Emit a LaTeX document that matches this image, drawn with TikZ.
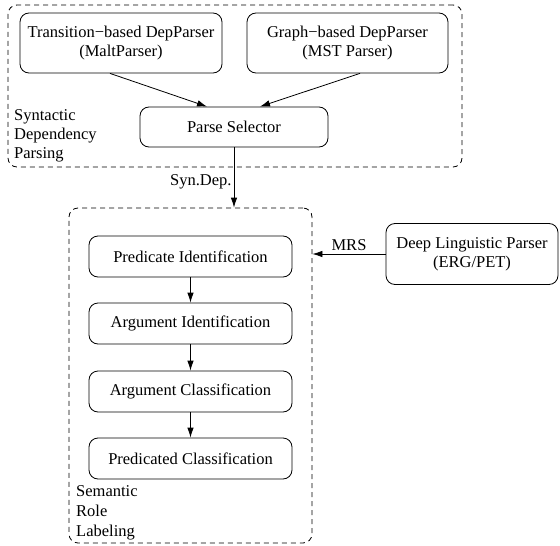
\documentclass[tikz,border=0pt]{standalone}
\usepackage{fontspec}
\setmainfont{Liberation Serif}
\usetikzlibrary{arrows.meta}
\begin{document}
\begin{tikzpicture}[x=1pt,y=-1pt,
  every node/.style={font=\fontsize{16.5}{19}\selectfont},
  procbox/.style={draw,line width=0.8pt,rounded corners=9pt,inner sep=0pt,align=center},
  groupbox/.style={draw,dashed,dash pattern=on 5pt off 4pt,line width=0.8pt,rounded corners=9pt,inner sep=0pt},
  conn/.style={line width=0.8pt,-{Latex[length=10pt,width=6.5pt]}},
  grouplabel/.style={inner sep=0pt,align=left,anchor=west}]
\useasboundingbox (0,0) rectangle (560,546);
% group boxes
\node[groupbox,minimum width=454pt,minimum height=162pt] (top) at (235,86) {};
\node[groupbox,minimum width=243pt,minimum height=335pt] (bot) at (190.5,375.5) {};
% top nodes
\node[procbox,minimum width=202pt,minimum height=60pt] (trans) at (121,43) {Transition−based DepParser\\(MaltParser)};
\node[procbox,minimum width=201pt,minimum height=60pt] (graph) at (347.5,43) {Graph−based DepParser\\(MST Parser)};
\node[procbox,minimum width=188pt,minimum height=40pt] (sel) at (234,127) {Parse Selector};
\node[grouplabel] (synlab) at (14,136) {Syntactic\\Dependency\\Parsing};
% bottom nodes
\node[procbox,minimum width=203pt,minimum height=41pt] (pi) at (190.5,256.5) {Predicate Identification};
\node[procbox,minimum width=203pt,minimum height=41pt] (ai) at (190.5,323.5) {Argument Identification};
\node[procbox,minimum width=203pt,minimum height=41pt] (ac) at (190.5,391.5) {Argument Classification};
\node[procbox,minimum width=203pt,minimum height=41pt] (pc) at (190.5,458.5) {Predicated Classification};
\node[grouplabel,font=\fontsize{16.5}{20}\selectfont] (srllab) at (76,513) {Semantic\\Role\\Labeling};
\node[procbox,minimum width=172pt,minimum height=61pt] (dlp) at (472,254) {Deep Linguistic Parser\\(ERG/PET)};
% connectors
\draw[conn] ([xshift=-11pt]trans.south) -- ([xshift=-27pt]sel.north);
\draw[conn] ([xshift=12.5pt]graph.south) -- ([xshift=26pt]sel.north);
\draw[conn] (sel.south) -- (sel.south |- bot.north) node[pos=0.58,anchor=east,inner sep=2pt] (synlabel) {Syn.Dep.};
\draw[conn] (dlp.west) -- (dlp.west -| bot.east) node[pos=0.5,anchor=south,inner sep=3pt] (mrslabel) {MRS};
\draw[conn] (pi) -- (ai);
\draw[conn] (ai) -- (ac);
\draw[conn] (ac) -- (pc);
\end{tikzpicture}
\end{document}
